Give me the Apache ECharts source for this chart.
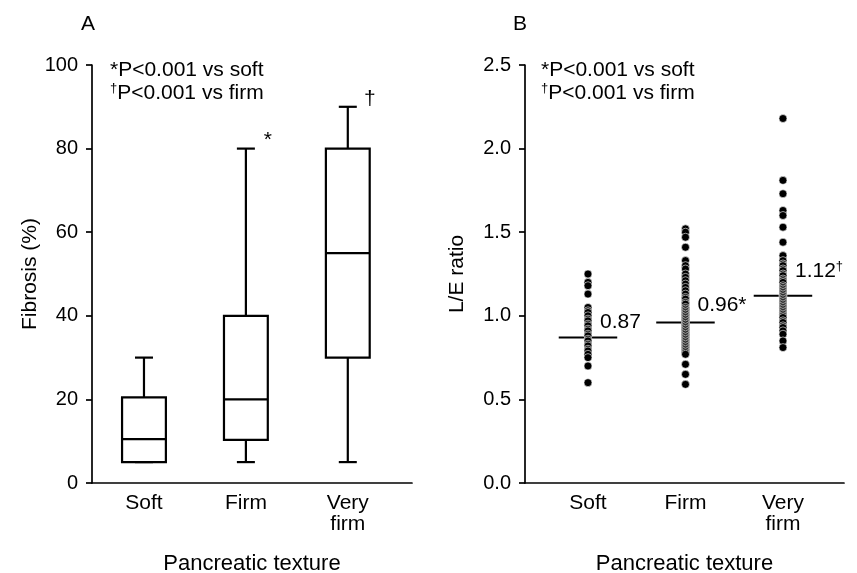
<!DOCTYPE html>
<html>
<head>
<meta charset="utf-8">
<script src="https://cdn.jsdelivr.net/npm/echarts@6/dist/echarts.min.js"></script>
<style>
  html, body { margin: 0; padding: 0; background: #fff; }
  #chart { width: 857px; height: 573px; }
</style>
</head>
<body>
<div id="chart"></div>
<script>
// Pancreatic texture groups
const categories = ['Soft', 'Firm', 'Very\nfirm'];

// Panel A: fibrosis (%) per group as [min, Q1, median, Q3, max]
const fibrosisSoft = [5, 5, 10.5, 20.5, 30];
const fibrosisFirm = [5, 10.3, 20, 40, 80];
const fibrosisVeryFirm = [5, 30, 55, 80, 90];
const fibrosisMarks = ['', '*', '\u2020'];
const fibrosisTicks = [0, 20, 40, 60, 80, 100];

// Panel B: individual L/E ratios per group
const leSoft = [1.25, 1.20, 1.18, 1.13, 1.05, 1.03, 1.02, 1.00, 0.98, 0.97, 0.95, 0.94,
  0.92, 0.91, 0.89, 0.88, 0.86, 0.85, 0.83, 0.82, 0.80, 0.79, 0.77, 0.75, 0.70, 0.60];
const leFirm = [1.52, 1.50, 1.47, 1.41, 1.33, 1.30, 1.28, 1.25, 1.23, 1.21, 1.19, 1.17,
  1.15, 1.13, 1.11, 1.10, 1.08, 1.07, 1.05, 1.04, 1.03, 1.02, 1.01, 1.00, 0.99, 0.98,
  0.97, 0.96, 0.95, 0.94, 0.93, 0.92, 0.91, 0.90, 0.89, 0.88, 0.87, 0.86, 0.85, 0.84,
  0.83, 0.82, 0.81, 0.80, 0.79, 0.78, 0.77, 0.71, 0.65, 0.59];
const leVeryFirm = [2.18, 1.81, 1.73, 1.63, 1.60, 1.53, 1.44, 1.36, 1.33, 1.31, 1.30,
  1.28, 1.27, 1.25, 1.24, 1.22, 1.21, 1.20, 1.18, 1.17, 1.16, 1.15, 1.14, 1.13, 1.12,
  1.11, 1.10, 1.09, 1.08, 1.07, 1.06, 1.05, 1.04, 1.03, 1.02, 1.01, 1.00, 0.99, 0.97,
  0.96, 0.94, 0.93, 0.91, 0.89, 0.85, 0.81];
const leMeans = [0.87, 0.96, 1.12];
const leMeanLabels = ['{n|0.87}', '{n|0.96*}', '{n|1.12}{s|\u2020}'];
const leTicks = [0, 0.5, 1.0, 1.5, 2.0, 2.5];

const FONT = '"Liberation Sans", Arial, Helvetica, sans-serif';
const INK = '#000';

const chart = echarts.init(document.getElementById('chart'), null, { renderer: 'canvas' });

const axisLineStyle = { color: INK, width: 1.7 };
const baseXAxis = {
  type: 'value',
  splitLine: { show: false },
  axisTick: { show: false },
  axisLine: { lineStyle: axisLineStyle },
  axisLabel: {
    customValues: [1, 2, 3],
    formatter: v => categories[Math.round(v) - 1] || '',
    color: INK, fontFamily: FONT, fontSize: 21, lineHeight: 21, margin: 10
  },
  name: 'Pancreatic texture',
  nameLocation: 'middle',
  nameGap: 70,
  nameTextStyle: { color: INK, fontFamily: FONT, fontSize: 22 }
};
const baseYAxis = {
  type: 'value',
  splitLine: { show: false },
  axisLine: { show: true, lineStyle: axisLineStyle },
  axisTick: { show: true, length: 6, lineStyle: { color: INK, width: 1.7 } },
  axisLabel: { color: INK, fontFamily: FONT, fontSize: 20, margin: 14 },
  nameLocation: 'middle',
  nameTextStyle: { color: INK, fontFamily: FONT, fontSize: 21 }
};

const boxData = [fibrosisSoft, fibrosisFirm, fibrosisVeryFirm].map((b, i) => [i + 1].concat(b));

function renderBox(params, api) {
  const x = api.value(0);
  const mn = api.coord([x, api.value(1)]);
  const q1 = api.coord([x, api.value(2)]);
  const md = api.coord([x, api.value(3)]);
  const q3 = api.coord([x, api.value(4)]);
  const mx = api.coord([x, api.value(5)]);
  const cx = mx[0];
  const hb = api.size([0.43, 0])[0] / 2;
  const hc = 9;
  const ls = { stroke: INK, lineWidth: 2.2, fill: null };
  const kids = [
    { type: 'line', shape: { x1: cx, y1: q3[1], x2: cx, y2: mx[1] }, style: ls },
    { type: 'line', shape: { x1: cx, y1: q1[1], x2: cx, y2: mn[1] }, style: ls },
    { type: 'line', shape: { x1: cx - hc, y1: mx[1], x2: cx + hc, y2: mx[1] }, style: ls },
    { type: 'line', shape: { x1: cx - hc, y1: mn[1], x2: cx + hc, y2: mn[1] }, style: ls },
    { type: 'rect', shape: { x: cx - hb, y: q3[1], width: hb * 2, height: q1[1] - q3[1] },
      style: { fill: '#fff', stroke: INK, lineWidth: 2.2 } },
    { type: 'line', shape: { x1: cx - hb, y1: md[1], x2: cx + hb, y2: md[1] }, style: ls }
  ];
  const mark = fibrosisMarks[params.dataIndex];
  if (mark) {
    kids.push({ type: 'text', x: cx + 22, y: mx[1] - 8,
      style: { text: mark, fill: INK, font: '21px ' + FONT, align: 'center', verticalAlign: 'middle' } });
  }
  return { type: 'group', children: kids };
}

const meanOffsets = [15, 17, 25];
function renderMean(params, api) {
  const x = api.value(0);
  const m = api.value(1);
  const a = api.coord([x - 0.3, m]);
  const b = api.coord([x + 0.3, m]);
  const c = api.coord([x, m]);
  return {
    type: 'group',
    children: [
      { type: 'line', shape: { x1: a[0], y1: a[1], x2: b[0], y2: b[1] },
        style: { stroke: INK, lineWidth: 2 } },
      { type: 'text', x: c[0] + 12, y: c[1] - meanOffsets[params.dataIndex],
        style: {
          text: leMeanLabels[params.dataIndex], align: 'left', verticalAlign: 'middle',
          rich: {
            n: { fontFamily: FONT, fontSize: 21, fill: INK, lineHeight: 22 },
            s: { fontFamily: FONT, fontSize: 13, fill: INK, verticalAlign: 'top', lineHeight: 22 }
          }
        } }
    ]
  };
}

const dotGroups = [leSoft, leFirm, leVeryFirm];
const dotSeries = dotGroups.map((g, i) => ({
  type: 'scatter',
  xAxisIndex: 1, yAxisIndex: 1,
  data: g.map(v => [i + 1, v]),
  symbol: 'circle',
  symbolSize: 8,
  itemStyle: { color: INK, borderColor: '#fff', borderWidth: 0.6, opacity: 1 },
  z: 5,
  silent: true
}));

const pRich = {
  t: { fontFamily: FONT, fontSize: 21, fill: INK, lineHeight: 23 },
  s: { fontFamily: FONT, fontSize: 13, fill: INK, lineHeight: 23, verticalAlign: 'top' }
};
function noteText(x) {
  return {
    type: 'text', left: x, top: 60,
    style: { text: '{t|*P<0.001 vs soft}\n{s|\u2020}{t|P<0.001 vs firm}', rich: pRich }
  };
}

chart.setOption({
  animation: false,
  backgroundColor: '#fff',
  grid: [
    { left: 92, right: 445, top: 65, bottom: 90, outerBoundsMode: 'none' },
    { left: 525, right: 13, top: 65, bottom: 90, outerBoundsMode: 'none' }
  ],
  xAxis: [
    Object.assign({}, baseXAxis, { gridIndex: 0, min: 0.49, max: 3.63 }),
    Object.assign({}, baseXAxis, { gridIndex: 1, min: 0.354, max: 3.626 })
  ],
  yAxis: [
    Object.assign({}, baseYAxis, {
      gridIndex: 0, min: fibrosisTicks[0], max: fibrosisTicks[fibrosisTicks.length - 1],
      interval: fibrosisTicks[1] - fibrosisTicks[0],
      name: 'Fibrosis (%)', nameGap: 50
    }),
    Object.assign({}, baseYAxis, {
      gridIndex: 1, min: leTicks[0], max: leTicks[leTicks.length - 1],
      interval: leTicks[1] - leTicks[0],
      axisLabel: Object.assign({}, baseYAxis.axisLabel, { formatter: v => v.toFixed(1) }),
      name: 'L/E ratio', nameGap: 57
    })
  ],
  graphic: [
    { type: 'text', left: 81, top: 14, style: { text: 'A', font: '21px ' + FONT, fill: INK } },
    { type: 'text', left: 513, top: 14, style: { text: 'B', font: '21px ' + FONT, fill: INK } },
    noteText(110),
    noteText(541)
  ],
  series: [
    {
      type: 'custom',
      xAxisIndex: 0, yAxisIndex: 0,
      data: boxData,
      encode: { x: 0, y: [1, 2, 3, 4, 5] },
      renderItem: renderBox,
      silent: true
    },
    {
      type: 'custom',
      xAxisIndex: 1, yAxisIndex: 1,
      data: leMeans.map((m, i) => [i + 1, m]),
      encode: { x: 0, y: 1 },
      renderItem: renderMean,
      z: 3,
      silent: true
    }
  ].concat(dotSeries)
});
</script>
</body>
</html>
